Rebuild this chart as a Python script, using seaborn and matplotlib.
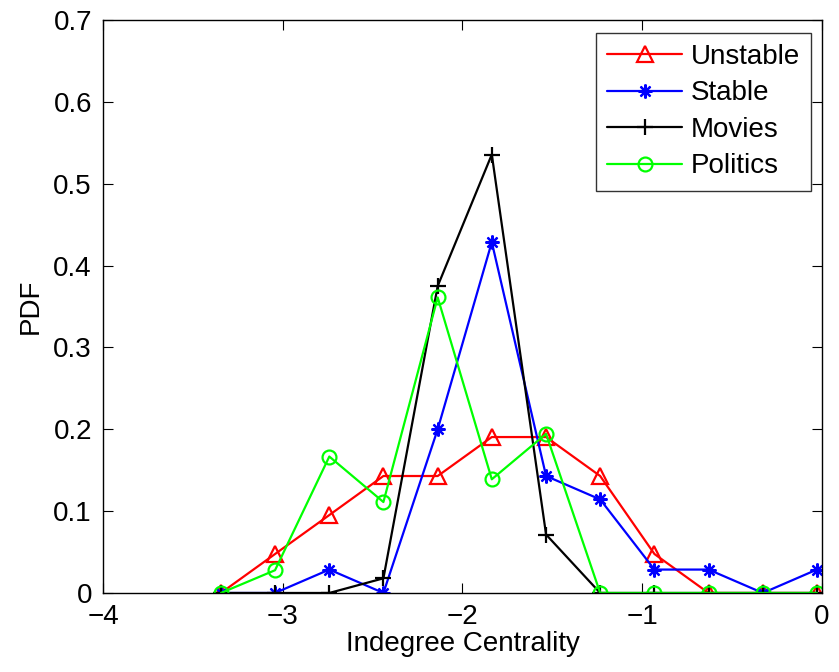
import matplotlib
matplotlib.use("Agg")
import matplotlib.pyplot as plt
import seaborn as sns
import pandas as pd

# Bin centres (log10 indegree centrality) and PDF per group
x_bins = [-3.344, -3.043, -2.741, -2.440, -2.138, -1.837,
          -1.535, -1.234, -0.932, -0.631, -0.329, -0.028]
unstable = [0.0, 0.0476, 0.0952, 0.1429, 0.1429, 0.1905,
            0.1905, 0.1429, 0.0476, 0.0, 0.0, 0.0]
stable = [0.0, 0.0, 0.0286, 0.0, 0.2, 0.4286,
          0.1429, 0.1143, 0.0286, 0.0286, 0.0, 0.0286]
movies = [0.0, 0.0, 0.0, 0.0179, 0.375, 0.5357,
          0.0714, 0.0, 0.0, 0.0, 0.0, 0.0]
politics = [0.0, 0.0278, 0.1667, 0.1111, 0.3611, 0.1389,
            0.1944, 0.0, 0.0, 0.0, 0.0, 0.0]

series_names = ["Unstable", "Stable", "Movies", "Politics"]
series_vals = [unstable, stable, movies, politics]
colors = ["#ff0000", "#0000ff", "#000000", "#00ff00"]
markers = ["^", (8, 2, 0), "+", "o"]
msizes = [11, 10, 12, 10]

sns.set_style("white")
plt.rcParams["font.family"] = ["Liberation Sans", "DejaVu Sans"]
plt.rcParams["axes.linewidth"] = 1.0
plt.rcParams["text.color"] = "black"
plt.rcParams["axes.labelcolor"] = "black"
plt.rcParams["xtick.color"] = "black"
plt.rcParams["ytick.color"] = "black"

fig = plt.figure(figsize=(8.39, 6.72), dpi=100)
ax = fig.add_axes([0.1228, 0.1176, 0.8569, 0.8526])

for name, vals, c, m, ms in zip(series_names, series_vals, colors, markers, msizes):
    df = pd.DataFrame({"x": x_bins, "pdf": vals})
    sns.lineplot(data=df, x="x", y="pdf", ax=ax, color=c, linewidth=1.6,
                 marker=m, markersize=ms, markerfacecolor="none",
                 markeredgecolor=c, markeredgewidth=1.6, label=name,
                 sort=False)

ax.set_xlim(-4, 0)
ax.set_ylim(0, 0.7)
ax.set_xticks([-4, -3, -2, -1, 0])
ax.set_xticklabels(["\u22124", "\u22123", "\u22122", "\u22121", "0"])
ax.set_yticks([0, 0.1, 0.2, 0.3, 0.4, 0.5, 0.6, 0.7])
ax.set_yticklabels(["0", "0.1", "0.2", "0.3", "0.4", "0.5", "0.6", "0.7"])
ax.tick_params(direction="in", length=7, width=0.8, labelsize=20,
               top=True, right=True, bottom=True, left=True)
ax.tick_params(axis="y", pad=8)
ax.tick_params(axis="x", pad=8)
for s in ax.spines.values():
    s.set_color("black")
    s.set_linewidth(1.0)

ax.set_xlabel("Indegree Centrality", fontsize=20, labelpad=1)
ax.set_ylabel("PDF", fontsize=20, labelpad=7)

leg = ax.legend(loc="upper right", bbox_to_anchor=(0.985, 0.978), fontsize=20,
                frameon=True, fancybox=False, handlelength=2.7,
                handletextpad=0.3, borderpad=0.4, labelspacing=0.38,
                borderaxespad=0.0)
leg.get_frame().set_edgecolor("black")
leg.get_frame().set_linewidth(1.0)

fig.savefig("out.png", dpi=100)
